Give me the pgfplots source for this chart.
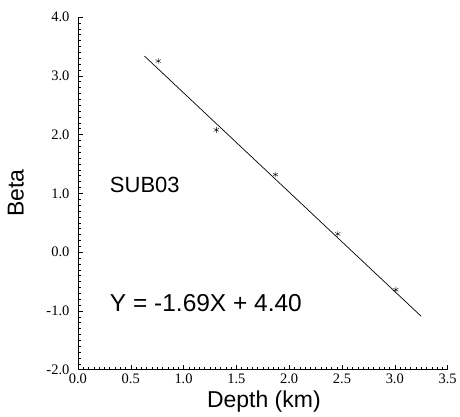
\documentclass[border=0pt]{standalone}
\usepackage{pgfplots}
\pgfplotsset{compat=1.18}
\usepackage{fontspec}
\setmainfont{Liberation Sans}
\newfontfamily\tickfont{Liberation Serif}
\begin{document}
\begin{tikzpicture}
\begin{axis}[
  name=ax,
  scale only axis,
  width=370pt, height=353pt,
  xmin=0, xmax=3.5, ymin=-2, ymax=4,
  axis x line=bottom, axis y line=left,
  axis line style={-, black, line width=0.6pt},
  xtick={0,0.5,...,3.5}, ytick={-2,-1,...,4},
  minor x tick num=9, minor y tick num=9,
  tick align=inside,
  major tick length=5pt, minor tick length=3pt,
  tick style={black, line width=0.4pt},
  /pgf/number format/assume math mode=true,
  /pgf/number format/fixed, /pgf/number format/fixed zerofill, /pgf/number format/precision=1,
  xticklabel style={font=\tickfont\fontsize{14.5}{15}\selectfont, yshift=-1pt},
  yticklabel style={font=\tickfont\fontsize{14.5}{15}\selectfont, xshift=-5pt},
  xlabel={Depth (km)}, ylabel={Beta},
  label style={font=\fontsize{23}{25}\selectfont},
  xlabel style={at={(axis description cs:0.503,-0.0907)}, anchor=center},
  ylabel style={at={(axis description cs:-0.168,0.5)}, anchor=center},
  clip=false,
]
\addplot[only marks, mark=asterisk, mark size=3pt, black] coordinates {
  (0.76,3.25) (1.31,2.08) (1.87,1.32) (2.46,0.31) (3.01,-0.64)
};
\addplot[black, line width=0.7pt] coordinates {(0.63,3.335) (3.25,-1.0925)};
\node[anchor=west, font=\fontsize{22}{24}\selectfont] at (axis cs:0.27,1.15) {SUB03};
\node[anchor=west, font=\fontsize{24.5}{26}\selectfont] at (axis cs:0.27,-0.86) {Y = -1.69X + 4.40};
\end{axis}
\path ([shift={(-78pt,-47pt)}]ax.south west) rectangle ([shift={(12pt,17pt)}]ax.north east);
\end{tikzpicture}
\end{document}
